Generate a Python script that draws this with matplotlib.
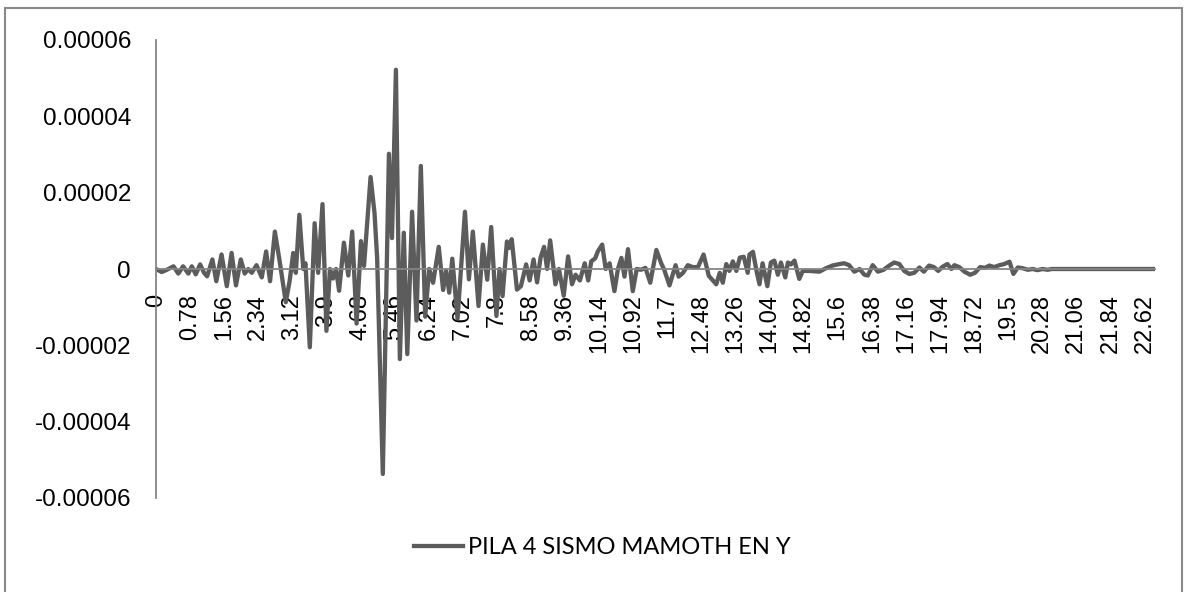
import matplotlib
matplotlib.use("Agg")
import matplotlib.pyplot as plt
from matplotlib.patches import Rectangle

# time (s) and response (x 1e-5)
t = [0.00, 0.13, 0.25, 0.40, 0.51, 0.62, 0.74, 0.82, 0.91, 1.01,
     1.10, 1.17, 1.29, 1.38, 1.50, 1.62, 1.73, 1.83, 1.94, 2.03,
     2.11, 2.19, 2.30, 2.42, 2.52, 2.61, 2.72, 2.83, 2.97, 3.06,
     3.14, 3.20, 3.28, 3.37, 3.42, 3.52, 3.63, 3.71, 3.81, 3.90,
     3.98, 4.05, 4.12, 4.19, 4.30, 4.40, 4.49, 4.59, 4.69, 4.76,
     4.91, 5.00, 5.06, 5.19, 5.33, 5.40, 5.49, 5.58, 5.67, 5.75,
     5.86, 5.96, 6.06, 6.16, 6.25, 6.34, 6.47, 6.57, 6.64, 6.71,
     6.78, 6.90, 6.96, 7.07, 7.16, 7.25, 7.31, 7.38, 7.48, 7.58,
     7.67, 7.79, 7.86, 7.93, 8.03, 8.08, 8.14, 8.26, 8.35, 8.47,
     8.55, 8.64, 8.72, 8.80, 8.88, 8.95, 9.02, 9.14, 9.22, 9.33,
     9.43, 9.52, 9.60, 9.70, 9.81, 9.89, 9.96, 10.05, 10.11, 10.21,
     10.29, 10.38, 10.49, 10.57, 10.65, 10.72, 10.80, 10.91, 11.00, 11.10,
     11.20, 11.31, 11.45, 11.56, 11.63, 11.75, 11.89, 11.96, 12.06, 12.17,
     12.28, 12.40, 12.53, 12.65, 12.82, 12.90, 12.97, 13.05, 13.12, 13.20,
     13.28, 13.36, 13.45, 13.54, 13.58, 13.66, 13.75, 13.81, 13.88, 13.99,
     14.07, 14.15, 14.23, 14.30, 14.40, 14.46, 14.53, 14.61, 14.72, 14.80,
     14.95, 15.18, 15.33, 15.48, 15.64, 15.75, 15.86, 15.98, 16.10, 16.21,
     16.29, 16.40, 16.52, 16.65, 16.78, 16.89, 17.01, 17.12, 17.24, 17.35,
     17.47, 17.57, 17.69, 17.80, 17.90, 18.00, 18.11, 18.20, 18.27, 18.38,
     18.50, 18.63, 18.74, 18.86, 18.97, 19.07, 19.18, 19.30, 19.41, 19.53,
     19.62, 19.72, 19.83, 19.95, 20.06, 20.17, 20.29, 20.40, 20.50, 22.86]

v = [0.00, -0.08, -0.02, 0.07, -0.12, 0.07, -0.12, 0.07, -0.14, 0.12,
     -0.10, -0.19, 0.25, -0.32, 0.38, -0.45, 0.42, -0.43, 0.25, -0.12,
     0.00, -0.10, 0.10, -0.22, 0.46, -0.32, 0.98, 0.20, -0.87, -0.30,
     0.42, -0.10, 1.42, 0.00, 0.15, -2.05, 1.20, -0.10, 1.70, -1.62,
     0.00, -0.25, 0.00, -0.57, 0.69, -0.17, 0.98, -1.43, 0.73, 0.08,
     2.41, 1.47, 0.30, -5.37, 3.02, 0.81, 5.22, -2.36, 0.95, -2.23,
     1.50, -1.35, 2.70, -1.25, 0.00, -0.36, 0.58, -0.55, -0.05, -0.62,
     0.27, -1.30, -0.30, 1.50, -0.27, 0.98, 0.10, -0.97, 0.64, -0.28,
     1.10, -1.23, 0.00, -0.71, 0.72, 0.55, 0.78, -0.54, -0.45, 0.12,
     -0.30, 0.25, -0.35, 0.30, 0.58, 0.00, 0.75, -0.40, 0.00, -0.70,
     0.33, -0.40, -0.15, -0.30, 0.15, -0.30, 0.20, 0.28, 0.46, 0.64,
     0.00, 0.15, -0.58, 0.00, 0.29, -0.20, 0.52, -0.58, 0.00, -0.02,
     0.03, -0.36, 0.50, 0.15, -0.02, -0.43, 0.10, -0.20, -0.10, 0.10,
     0.05, 0.05, 0.38, -0.18, -0.40, -0.10, -0.36, 0.13, -0.05, 0.20,
     -0.05, 0.30, 0.32, -0.10, 0.38, 0.45, -0.10, -0.40, 0.15, -0.45,
     0.17, 0.22, -0.15, 0.17, -0.22, 0.17, 0.12, 0.22, -0.26, -0.05,
     -0.05, -0.07, 0.02, 0.09, 0.13, 0.15, 0.10, -0.07, 0.00, -0.15,
     -0.17, 0.10, -0.07, -0.02, 0.09, 0.17, 0.13, -0.05, -0.13, -0.10,
     0.04, -0.07, 0.09, 0.05, -0.05, 0.06, 0.13, 0.00, 0.10, 0.05,
     -0.07, -0.15, -0.10, 0.05, 0.03, 0.09, 0.05, 0.10, 0.13, 0.19,
     -0.13, 0.04, 0.02, -0.02, 0.00, -0.03, 0.00, -0.02, 0.00, 0.00]

xtick_labels = ["0", "0.78", "1.56", "2.34", "3.12", "3.9", "4.68", "5.46",
                "6.24", "7.02", "7.8", "8.58", "9.36", "10.14", "10.92", "11.7",
                "12.48", "13.26", "14.04", "14.82", "15.6", "16.38", "17.16",
                "17.94", "18.72", "19.5", "20.28", "21.06", "21.84", "22.62"]
ytick_labels = ["-0.00006", "-0.00004", "-0.00002", "0",
                "0.00002", "0.00004", "0.00006"]
series_name = "PILA 4 SISMO MAMOTH EN Y"

W, H = 1186, 592
fig = plt.figure(figsize=(W / 100, H / 100), dpi=100)
ax = fig.add_axes([156 / W, 1 - 498 / H, (1155 - 156) / W, (498 - 40) / H])

y = [val * 1e-5 for val in v]
ax.plot(t, y, color="#5c5c5c", lw=3.1, label=series_name,
        solid_joinstyle="round", zorder=2)

ax.set_xlim(0, 22.86)
ax.set_ylim(-6e-5, 6e-5)

# axis at y = 0 (must be set before tick labels, it resets the ticks)
for s in ["top", "right"]:
    ax.spines[s].set_visible(False)
ax.spines["bottom"].set_position(("data", 0))
for s in ["bottom", "left"]:
    ax.spines[s].set_color("#868686")
    ax.spines[s].set_linewidth(1.3)
    ax.spines[s].set_zorder(3)

ax.set_xticks([i * 0.78 for i in range(len(xtick_labels))])
ax.set_xticklabels(xtick_labels, rotation=90, fontsize=17,
                   family="Liberation Sans", va="top", ha="center")
ax.set_yticks([(i - 3) * 2e-5 for i in range(len(ytick_labels))])
ax.set_yticklabels(ytick_labels, fontsize=17.5, family="Liberation Sans")
ax.tick_params(axis="x", length=0, pad=18)
ax.tick_params(axis="y", length=0, pad=18)

leg = fig.legend(loc="center", bbox_to_anchor=(602 / W, 1 - 548 / H),
                 frameon=False, handlelength=2.1, handletextpad=0.2,
                 prop={"family": "Lato", "size": 17})

# chart border
fig.patches.append(Rectangle((5 / W, -0.01), (1182 - 5) / W, 1.01 - 8 / H,
                             transform=fig.transFigure, fill=False,
                             edgecolor="#898989", lw=1.5))

fig.savefig("out.png", dpi=100)
